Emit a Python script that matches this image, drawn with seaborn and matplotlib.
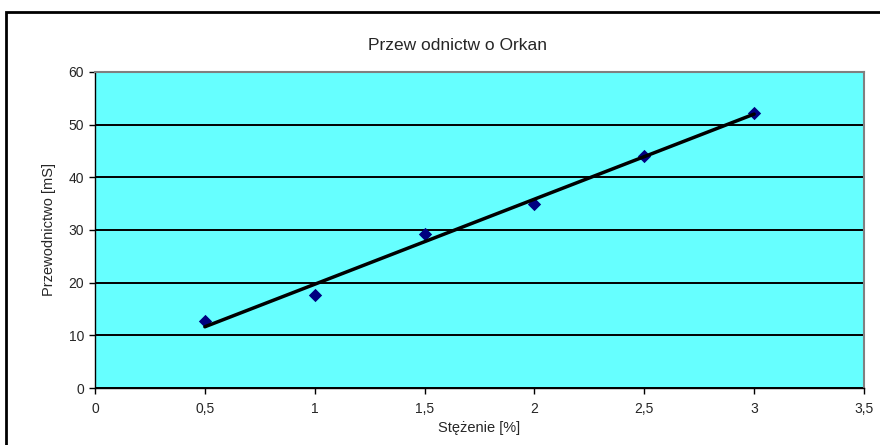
import matplotlib
matplotlib.use("Agg")
import matplotlib.pyplot as plt
import seaborn as sns
import pandas as pd
from matplotlib.patches import Rectangle

# dane
stezenie = [0.5, 1.0, 1.5, 2.0, 2.5, 3.0]
przewodnictwo = [12.7, 17.7, 29.2, 35.0, 44.0, 52.3]
x_ticks = [0, 0.5, 1, 1.5, 2, 2.5, 3, 3.5]
x_tick_labels = ["0", "0,5", "1", "1,5", "2", "2,5", "3", "3,5"]
y_ticks = [0, 10, 20, 30, 40, 50, 60]

df = pd.DataFrame({"stezenie": stezenie, "przewodnictwo": przewodnictwo})

sns.set_style("white")
plt.rcParams["font.family"] = ["Liberation Sans", "DejaVu Sans"]

fig = plt.figure(figsize=(8.8, 4.45), dpi=100)
ax = fig.add_axes([95 / 880, 57 / 445, 769 / 880, 316 / 445])
ax.set_facecolor("#66FFFF")

sns.regplot(
    data=df, x="stezenie", y="przewodnictwo", ax=ax, ci=None, marker="D",
    scatter_kws={"s": 46, "color": "#000080", "alpha": 1, "linewidths": 0,
                 "zorder": 3},
    line_kws={"color": "black", "lw": 2.5, "zorder": 4},
)

ax.set_xlim(0, 3.5)
ax.set_ylim(0, 60)
ax.set_xticks(x_ticks)
ax.set_xticklabels(x_tick_labels)
ax.set_yticks(y_ticks)
ax.yaxis.grid(True, color="black", lw=1.4)
ax.set_axisbelow(True)

for side in ["left", "bottom"]:
    ax.spines[side].set_color("black")
    ax.spines[side].set_linewidth(1.0)
for side in ["top", "right"]:
    ax.spines[side].set_color("#808080")
    ax.spines[side].set_linewidth(1.5)

ax.tick_params(axis="both", direction="out", length=4, width=1, color="black",
               labelsize=10, pad=4, bottom=True, left=True)
ax.tick_params(axis="x", pad=6)
ax.set_xlabel("Stężenie [%]", fontsize=10.5, labelpad=4)
ax.set_ylabel("Przewodnictwo [mS]", fontsize=10.5, labelpad=9)

fig.text(457 / 880, 1 - 45 / 445, "Przew odnictw o Orkan", ha="center",
         va="center", fontsize=12.5)

# ramka obszaru wykresu
fig.patches.append(Rectangle((6 / 880, -0.05), 1.0, 1 - 12 / 445 + 0.05,
                             transform=fig.transFigure, fill=False,
                             edgecolor="black", lw=2))

fig.savefig("out.png", dpi=100)
